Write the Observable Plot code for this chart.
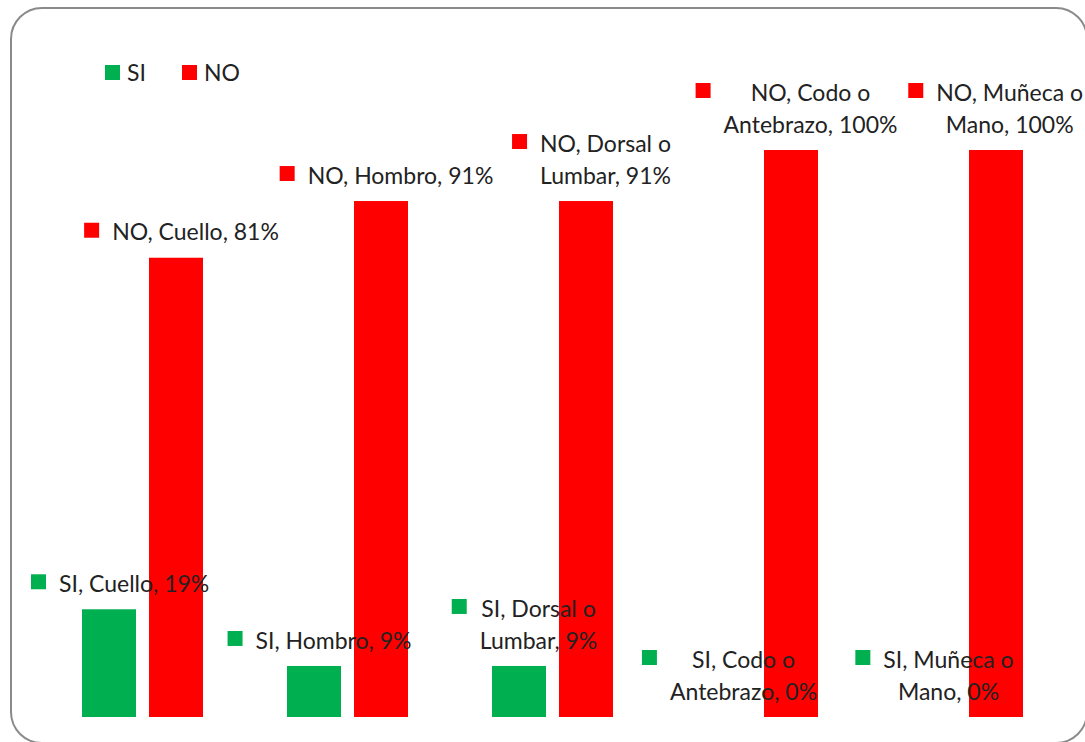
<!DOCTYPE html>
<html><head><meta charset="utf-8">
<script src="https://cdn.jsdelivr.net/npm/d3@7"></script>
<script src="https://cdn.jsdelivr.net/npm/@observablehq/plot@0.6"></script>
<style>
body{margin:0;background:#fff;}
#wrap{position:relative;width:1085px;height:742px;overflow:hidden;}
#frame{position:absolute;left:10px;top:7px;width:1074px;height:733px;border:2px solid #8a8a8a;border-radius:32px;pointer-events:none;}
#legend{position:absolute;left:105px;top:57px;height:30px;display:flex;align-items:center;font-family:Lato,sans-serif;font-size:23px;color:#222;}
#legend .item{display:flex;align-items:center;margin-right:36px;}
#legend .sw{display:inline-block;width:15px;height:15px;margin-right:7px;}
#chart{position:absolute;left:0;top:0;}
</style></head>
<body>
<div id="wrap">
  <div id="chart"></div>
  <div id="legend"></div>
  <div id="frame"></div>
</div>
<script>
const categories = ["Cuello", "Hombro", "Dorsal o Lumbar", "Codo o Antebrazo", "Muñeca o Mano"];
const categoryLines = [["Cuello"], ["Hombro"], ["Dorsal o", "Lumbar"], ["Codo o", "Antebrazo"], ["Muñeca o", "Mano"]];
const series = ["SI", "NO"];
const siValues = [19, 9, 9, 0, 0];
const noValues = [81, 91, 91, 100, 100];
const colors = ["#00b050", "#ff0000"];

const W = 1085, H = 742;
const mL = 81, mR = 61, mT = 150, mB = 25;
const font = "Lato";
const fontSize = 23;
const lineH = 32;

const rows = [];
categories.forEach((c, i) => {
  [siValues, noValues].forEach((vals, s) => {
    const v = vals[i];
    const cl = categoryLines[i];
    const lines = cl.length === 1
      ? [`${series[s]}, ${cl[0]}, ${v}%`]
      : [`${series[s]}, ${cl[0]}`, `${cl[1]}, ${v}%`];
    rows.push({category: c, series: series[s], value: v, lines, label: lines.join("\n")});
  });
});

// measure text to place the little square beside each label
const ctx = document.createElement("canvas").getContext("2d");
ctx.font = `${fontSize}px ${font}`;
const fxS = d3.scaleBand().domain(categories).range([mL, W - mR]).paddingInner(0.4).paddingOuter(0);
const xS = d3.scaleBand().domain(series).range([0, fxS.bandwidth()]).paddingInner(0.19).paddingOuter(0);

const marks = [
  Plot.barY(rows, {fx: "category", x: "series", y: "value", fill: "series"})
];
rows.forEach(r => {
  const tw = d3.max(r.lines, l => ctx.measureText(l).width);
  const n = r.lines.length;
  const cx = fxS(r.category) + xS(r.series) + xS.bandwidth() / 2;
  let textDx = 19;
  let left = cx + textDx - tw / 2 - 28;
  let right = cx + textDx + tw / 2;
  if (left < 30) textDx += 30 - left;
  if (right > 1083) textDx -= right - 1083;
  const dyText = -28 - (n - 1) * lineH / 2;
  const dySq = -28 - (n - 1) * lineH;
  const sqDx = textDx - tw / 2 - 13 - 7.5;
  marks.push(Plot.text([r], {
    fx: "category", x: "series", y: "value", text: "label",
    dx: textDx, dy: dyText, lineAnchor: "middle", lineHeight: lineH / fontSize,
    textAnchor: "middle", fontSize, fontFamily: font, fill: "#222"
  }));
  marks.push(Plot.dot([r], {
    fx: "category", x: "series", y: "value", symbol: "square",
    r: 15 / Math.sqrt(Math.PI), fill: "series", stroke: null, dx: sqDx, dy: dySq
  }));
});

const chart = Plot.plot({
  width: W, height: H,
  marginLeft: mL, marginRight: mR, marginTop: mT, marginBottom: mB,
  fx: {domain: categories, paddingInner: 0.4, paddingOuter: 0, axis: null, label: null},
  x: {domain: series, paddingInner: 0.19, paddingOuter: 0, axis: null, label: null},
  y: {domain: [0, 100], axis: null},
  color: {domain: series, range: colors},
  style: {background: "transparent", overflow: "visible"},
  marks
});
document.getElementById("chart").appendChild(chart);

const legend = document.getElementById("legend");
series.forEach((s, i) => {
  const it = document.createElement("div");
  it.className = "item";
  const sw = document.createElement("span");
  sw.className = "sw";
  sw.style.background = colors[i];
  it.appendChild(sw);
  it.appendChild(document.createTextNode(s));
  legend.appendChild(it);
});
</script>
</body></html>
